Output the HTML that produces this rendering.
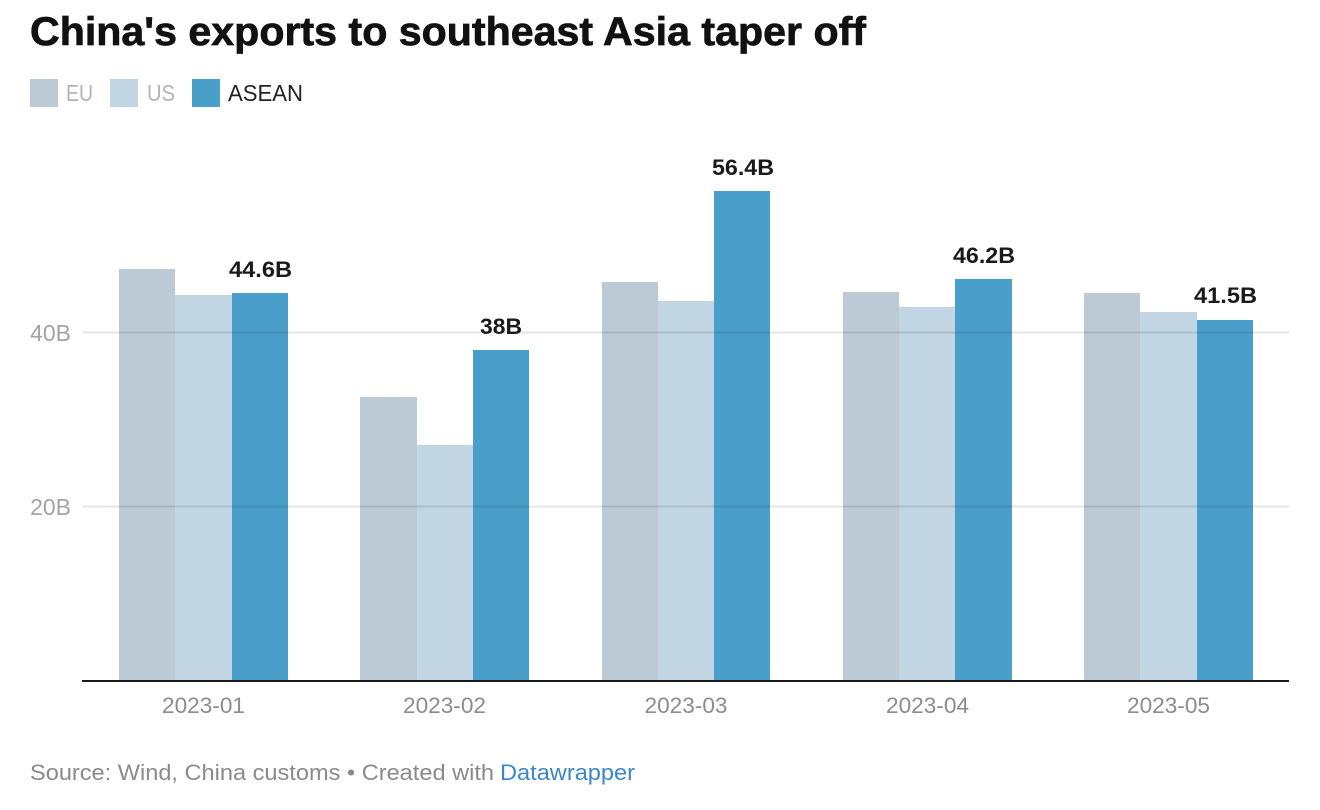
<!DOCTYPE html>
<html>
<head>
<meta charset="utf-8">
<style>
  html, body { margin: 0; padding: 0; background: #ffffff; }
  body { width: 1320px; height: 810px; overflow: hidden; }
  svg { display: block; }
  text { font-family: "Liberation Sans", Arial, sans-serif; }
</style>
</head>
<body>
<svg width="1320" height="810" viewBox="0 0 1320 810" xmlns="http://www.w3.org/2000/svg">
  <rect x="0" y="0" width="1320" height="810" fill="#ffffff"/>

  <!-- Title -->
  <text x="30" y="45" font-size="40" font-weight="bold" fill="#111111" stroke="#111111" stroke-width="0.7" textLength="836" lengthAdjust="spacingAndGlyphs">China's exports to southeast Asia taper off</text>

  <!-- Legend -->
  <rect x="30" y="79" width="28" height="28" fill="#bccad5"/>
  <text x="66" y="101" font-size="23" fill="#b3b3b3" textLength="27" lengthAdjust="spacingAndGlyphs">EU</text>
  <rect x="110" y="79" width="28" height="28" fill="#c1d6e2"/>
  <text x="147" y="101" font-size="23" fill="#b3b3b3" textLength="28" lengthAdjust="spacingAndGlyphs">US</text>
  <rect x="192" y="79" width="28" height="28" fill="#4a9fca"/>
  <text x="228" y="101" font-size="23" fill="#222222" textLength="75" lengthAdjust="spacingAndGlyphs">ASEAN</text>

  <!-- Y axis labels -->
  <text x="71" y="341" font-size="23" fill="#a3a3a3" text-anchor="end">40B</text>
  <text x="71" y="515" font-size="23" fill="#a3a3a3" text-anchor="end">20B</text>

  <!-- Bars: group 1 -->
  <rect x="119" y="269" width="56" height="411" fill="#bccad5"/>
  <rect x="175" y="295" width="57" height="385" fill="#c1d6e2"/>
  <rect x="232" y="293" width="56" height="387" fill="#4a9fca"/>
  <!-- group 2 -->
  <rect x="360" y="397" width="57" height="283" fill="#bccad5"/>
  <rect x="417" y="445" width="56" height="235" fill="#c1d6e2"/>
  <rect x="473" y="350" width="56" height="330" fill="#4a9fca"/>
  <!-- group 3 -->
  <rect x="602" y="282" width="56" height="398" fill="#bccad5"/>
  <rect x="658" y="301" width="56" height="379" fill="#c1d6e2"/>
  <rect x="714" y="191" width="56" height="489" fill="#4a9fca"/>
  <!-- group 4 -->
  <rect x="843" y="292" width="56" height="388" fill="#bccad5"/>
  <rect x="899" y="307" width="56" height="373" fill="#c1d6e2"/>
  <rect x="955" y="279" width="57" height="401" fill="#4a9fca"/>
  <!-- group 5 -->
  <rect x="1084" y="293" width="56" height="387" fill="#bccad5"/>
  <rect x="1140" y="312" width="57" height="368" fill="#c1d6e2"/>
  <rect x="1197" y="320" width="56" height="360" fill="#4a9fca"/>

  <!-- Gridlines (over bars, translucent) -->
  <line x1="83" y1="332.5" x2="1289" y2="332.5" stroke="#000000" stroke-opacity="0.1" stroke-width="2"/>
  <line x1="83" y1="506.5" x2="1289" y2="506.5" stroke="#000000" stroke-opacity="0.1" stroke-width="2"/>

  <!-- Baseline -->
  <rect x="82" y="680" width="1207" height="2" fill="#1a1a1a"/>

  <!-- Value labels -->
  <text x="260.5" y="277" font-size="22" font-weight="bold" fill="#1a1a1a" text-anchor="middle" textLength="63" lengthAdjust="spacingAndGlyphs">44.6B</text>
  <text x="501" y="334" font-size="22" font-weight="bold" fill="#1a1a1a" text-anchor="middle" textLength="42" lengthAdjust="spacingAndGlyphs">38B</text>
  <text x="743" y="175" font-size="22" font-weight="bold" fill="#1a1a1a" text-anchor="middle" textLength="62" lengthAdjust="spacingAndGlyphs">56.4B</text>
  <text x="984" y="263" font-size="22" font-weight="bold" fill="#1a1a1a" text-anchor="middle" textLength="62" lengthAdjust="spacingAndGlyphs">46.2B</text>
  <text x="1225.5" y="303" font-size="22" font-weight="bold" fill="#1a1a1a" text-anchor="middle" textLength="63" lengthAdjust="spacingAndGlyphs">41.5B</text>

  <!-- X axis labels -->
  <text x="203.5" y="713" font-size="22.5" fill="#8c8c8c" text-anchor="middle" textLength="83" lengthAdjust="spacingAndGlyphs">2023-01</text>
  <text x="444.5" y="713" font-size="22.5" fill="#8c8c8c" text-anchor="middle" textLength="83" lengthAdjust="spacingAndGlyphs">2023-02</text>
  <text x="686" y="713" font-size="22.5" fill="#8c8c8c" text-anchor="middle" textLength="83" lengthAdjust="spacingAndGlyphs">2023-03</text>
  <text x="927.5" y="713" font-size="22.5" fill="#8c8c8c" text-anchor="middle" textLength="83" lengthAdjust="spacingAndGlyphs">2023-04</text>
  <text x="1168.5" y="713" font-size="22.5" fill="#8c8c8c" text-anchor="middle" textLength="83" lengthAdjust="spacingAndGlyphs">2023-05</text>

  <!-- Source -->
  <text x="30" y="780" font-size="22" fill="#8a8a8a" textLength="464" lengthAdjust="spacingAndGlyphs">Source: Wind, China customs • Created with</text>
  <text x="500" y="780" font-size="22" fill="#3b87c8" textLength="135" lengthAdjust="spacingAndGlyphs">Datawrapper</text>
</svg>
</body>
</html>
